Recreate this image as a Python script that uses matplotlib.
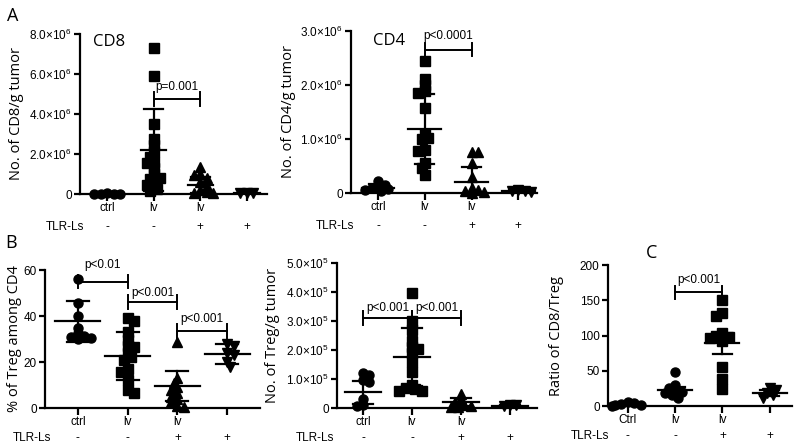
import numpy as np
import matplotlib
matplotlib.use('Agg')
import matplotlib.pyplot as plt
from matplotlib.transforms import blended_transform_factory

plt.rcParams['font.family'] = ['Liberation Sans', 'DejaVu Sans']

# ---- data ----
groups_top = ['ctrl', 'lv', 'lv', '']
groups_c = ['Ctrl', 'lv', 'lv', '']
tlr_signs = ['-', '-', '+', '+']

# A: CD8 per g tumor (x1e6)
cd8_ctrl = [0.02, 0.01, 0.03, 0.02, 0.01]
cd8_lv = [7.3, 5.9, 3.5, 2.75, 2.45, 2.1, 1.85, 1.55, 1.6, 1.3, 1.0, 0.8, 0.75, 0.5, 0.45, 0.25, 0.15]
cd8_lv_tlr = [1.35, 1.0, 0.95, 0.8, 0.6, 0.4, 0.2, 0.1, 0.05, 0.05]
cd8_tlr = [0.05, 0.03, 0.04]
cd8_mean = [0.01, 2.2, 0.45, 0.03]
cd8_sd = [0.01, 2.05, 0.42, 0.02]

# A: CD4 per g tumor (x1e6)
cd4_ctrl = [0.22, 0.15, 0.12, 0.1, 0.07, 0.05, 0.03]
cd4_lv = [2.45, 2.11, 2.0, 1.88, 1.85, 1.57, 1.1, 1.02, 1.0, 0.8, 0.78, 0.55, 0.47, 0.33]
cd4_lv_tlr = [0.75, 0.75, 0.55, 0.3, 0.1, 0.05, 0.03, 0.02, 0.0]
cd4_tlr = [0.06, 0.04, 0.03, 0.02]
cd4_mean = [0.1, 1.18, 0.21, 0.03]
cd4_sd = [0.06, 0.65, 0.27, 0.02]

# B: % Treg among CD4
treg_pct_ctrl = [56, 45.5, 40, 35, 32.5, 31.5, 30.5, 30, 31]
treg_pct_lv = [39, 38, 33, 29.5, 27, 26.5, 24, 22, 21, 17, 15.5, 12, 8, 6.5]
treg_pct_lv_tlr = [28.5, 13, 11, 9, 8, 6.5, 5, 4, 2.5, 1, 0.5]
treg_pct_tlr = [28, 27, 24, 23, 20, 18]
treg_pct_mean = [37.7, 22.6, 9.6, 23.5]
treg_pct_sd = [9, 10.5, 6.5, 4.4]

# B: Treg per g tumor (x1e5)
treg_ctrl = [1.2, 1.15, 0.95, 0.9, 0.3, 0.1, 0.08]
treg_lv = [3.95, 3.0, 2.7, 2.3, 2.1, 2.05, 1.9, 1.6, 1.25, 0.8, 0.7, 0.65, 0.6, 0.58]
treg_lv_tlr = [0.5, 0.3, 0.2, 0.12, 0.08, 0.05, 0.02]
treg_tlr = [0.12, 0.1, 0.06]
treg_mean = [0.54, 1.75, 0.2, 0.08]
treg_sd = [0.4, 1.0, 0.14, 0.04]

# C: CD8/Treg ratio
ratio_ctrl = [5, 3, 2, 1, 0.5, 4]
ratio_lv = [48, 30, 25, 22, 20, 18, 15, 12]
ratio_lv_tlr = [150, 132, 128, 103, 100, 98, 96, 92, 55, 39, 24]
ratio_tlr = [25, 22, 18, 15, 12]
ratio_mean = [2.5, 22.5, 89, 18]
ratio_err = [1.5, 4, 15, 4]

W, H = 800, 448
fig = plt.figure(figsize=(8, 4.48), dpi=100)


def sci(v, e):
    return r'%.1f$\mathregular{\times10^{%d}}$' % (v, e)


def swarm(ax, ys, size_px):
    # compact beeswarm in pixel space, side alternates so groups stay centred
    ypx = ax.transData.transform(np.column_stack([np.zeros(len(ys)), ys]))[:, 1]
    x0 = ax.transData.transform((0, 0))[0]
    x1 = ax.transData.transform((1, 0))[0]
    placed = []
    offs = np.zeros(len(ys))
    for n, i in enumerate(np.argsort(-ypx)):
        sgn = 1 if n % 2 else -1
        for k in [0, 1, -1, 2, -2, 3, -3, 4, -4, 5, -5]:
            xo = sgn * k * size_px * 0.38
            if all((xo - px) ** 2 + (ypx[i] - py) ** 2 >= (0.62 * size_px) ** 2 for px, py in placed):
                break
        placed.append((xo, ypx[i]))
        offs[i] = xo / (x1 - x0)
    return offs


def panel(box, xlim, ylim, data, markers, mean, sd, yticks, yticklabels, ylabel, ylabel_x,
          xlabels, tlr_right, sigs, mean_hw=0.33, cap_hw=0.18):
    x0, x1, ytop, ybot = box
    ax = fig.add_axes([x0 / W, 1 - ybot / H, (x1 - x0) / W, (ybot - ytop) / H])
    ax.set_xlim(*xlim)
    ax.set_ylim(*ylim)
    for s in ['top', 'right']:
        ax.spines[s].set_visible(False)
    for s in ['left', 'bottom']:
        ax.spines[s].set_linewidth(1.6)
    ax.set_yticks(yticks)
    ax.set_yticklabels(yticklabels, fontsize=8.5)
    ax.set_xticks(range(4))
    ax.set_xticklabels(xlabels, fontsize=8.5)
    ax.tick_params(axis='both', width=1.6, length=4, pad=2)
    ax.tick_params(axis='x', length=5, pad=1)

    for i, (ys, m) in enumerate(zip(data, markers)):
        offs = swarm(ax, ys, 8.5)
        ax.plot(i + offs, ys, m, color='black', ms=6.5, ls='none', clip_on=False, zorder=3)
        lo, hi = mean[i] - sd[i], mean[i] + sd[i]
        ax.plot([i, i], [lo, hi], color='black', lw=1.6, zorder=4)
        ax.plot([i - cap_hw, i + cap_hw], [hi, hi], color='black', lw=1.6, zorder=4)
        ax.plot([i - cap_hw, i + cap_hw], [lo, lo], color='black', lw=1.6, zorder=4)
        ax.plot([i - mean_hw, i + mean_hw], [mean[i], mean[i]], color='black', lw=1.6,
                zorder=4, clip_on=False)

    for xa, xb, yb, th, txt, ty in sigs:
        ax.plot([xa, xb], [yb, yb], color='black', lw=1.4, clip_on=False, zorder=5)
        ax.plot([xa, xa], [yb - th, yb + th], color='black', lw=1.4, clip_on=False, zorder=5)
        ax.plot([xb, xb], [yb - th, yb + th], color='black', lw=1.4, clip_on=False, zorder=5)
        ax.text((xa + xb) / 2, ty, txt, ha='center', va='center', fontsize=8.5)

    fig.text(ylabel_x / W, 1 - (ytop + ybot) / 2 / H, ylabel, rotation=90, ha='center',
             va='center', fontsize=10.5, family=['Open Sans', 'DejaVu Sans'])

    # TLR-Ls row under the category labels
    gap = 33 if ybot < 300 else 30
    tr = blended_transform_factory(ax.transData, ax.transAxes)
    for i, sgn in enumerate(tlr_signs):
        ax.text(i, -gap / (ybot - ytop), sgn, transform=tr, ha='center', va='center', fontsize=8.5)
    fig.text(tlr_right / W, 1 - (ybot + gap) / H, 'TLR-Ls', ha='right', va='center', fontsize=8.5)
    return ax


# ---- A: CD8 ----
ax = panel((80, 267, 34, 194), (-0.58, 3.43), (0, 8),
           [cd8_ctrl, cd8_lv, cd8_lv_tlr, cd8_tlr], ['o', 's', '^', 'v'], cd8_mean, cd8_sd,
           [0, 2, 4, 6, 8], ['0', sci(2, 6), sci(4, 6), sci(6, 6), sci(8, 6)],
           'No. of CD8/g tumor', 17, groups_top, 84,
           [(1, 2, 4.75, 0.35, 'p=0.001', 5.35)], mean_hw=0.27, cap_hw=0.2)
ax.text(-0.3, 7.6, 'CD8', fontsize=12, family=['Open Sans', 'DejaVu Sans'], va='center')

# ---- A: CD4 ----
ax = panel((351, 537, 31, 193), (-0.58, 3.4), (0, 3),
           [cd4_ctrl, cd4_lv, cd4_lv_tlr, cd4_tlr], ['o', 's', '^', 'v'], cd4_mean, cd4_sd,
           [0, 1, 2, 3], ['0', sci(1, 6), sci(2, 6), sci(3, 6)],
           'No. of CD4/g tumor', 288, groups_top, 354,
           [(1, 2, 2.65, 0.12, 'p<0.0001', 2.9)], mean_hw=0.35, cap_hw=0.2)
ax.text(-0.1, 2.82, 'CD4', fontsize=12, family=['Open Sans', 'DejaVu Sans'], va='center')

# ---- B: % Treg ----
panel((45, 260, 270, 408), (-0.66, 3.66), (0, 60),
      [treg_pct_ctrl, treg_pct_lv, treg_pct_lv_tlr, treg_pct_tlr], ['o', 's', '^', 'v'],
      treg_pct_mean, treg_pct_sd,
      [0, 20, 40, 60], ['0', '20', '40', '60'],
      '% of Treg among CD4', 15, groups_top, 51,
      [(0, 1, 55, 3, 'p<0.01', 62), (1, 2, 46, 3, 'p<0.001', 50),
       (2, 3, 33.5, 3, 'p<0.001', 38.5)], mean_hw=0.45, cap_hw=0.22)

# ---- B: Treg per g ----
panel((337, 537, 263, 408), (-0.53, 3.55), (0, 5),
      [treg_ctrl, treg_lv, treg_lv_tlr, treg_tlr], ['o', 's', '^', 'v'], treg_mean, treg_sd,
      [0, 1, 2, 3, 4, 5], ['0'] + [sci(v, 5) for v in [1, 2, 3, 4, 5]],
      'No. of Treg/g tumor', 272, groups_top, 334,
      [(0, 1, 3.1, 0.23, 'p<0.001', 3.45), (1, 2, 3.1, 0.23, 'p<0.001', 3.45)],
      mean_hw=0.36, cap_hw=0.2)

# ---- C: CD8/Treg ----
panel((608, 792, 265, 406), (-0.42, 3.47), (0, 200),
      [ratio_ctrl, ratio_lv, ratio_lv_tlr, ratio_tlr], ['o', 'o', 's', 'v'], ratio_mean, ratio_err,
      [0, 50, 100, 150, 200], ['0', '50', '100', '150', '200'],
      'Ratio of CD8/Treg', 557, groups_c, 609,
      [(1, 2, 161, 9.5, 'p<0.001', 179)], mean_hw=0.36, cap_hw=0.2)

# panel letters
for txt, x, y in [('A', 13, 16), ('B', 11, 243), ('C', 652, 253)]:
    fig.text(x / W, 1 - y / H, txt, ha='center', va='center', fontsize=13,
             family=['Open Sans', 'DejaVu Sans'])

fig.savefig('out.png', dpi=100)
